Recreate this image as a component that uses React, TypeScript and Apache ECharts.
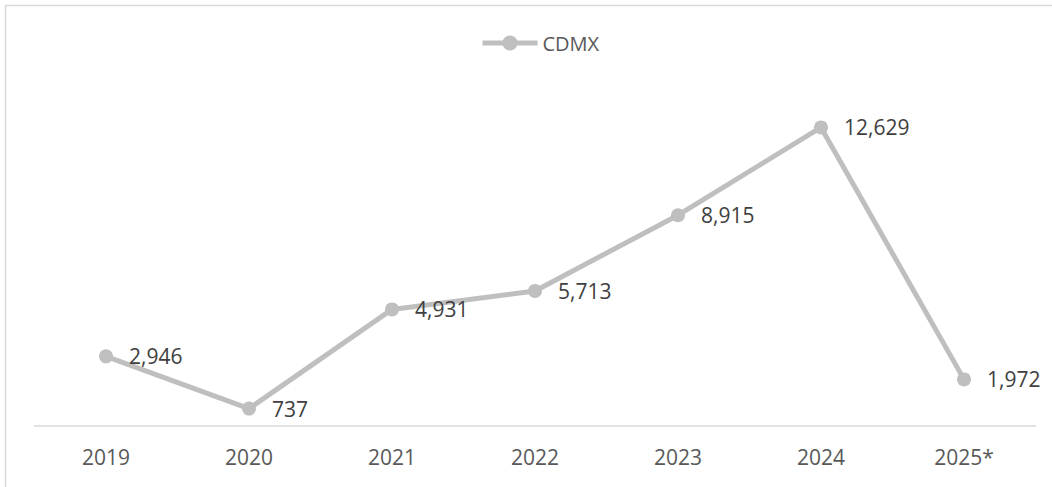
import React, { useEffect, useRef } from "react";
import * as echarts from "echarts";

const categories = ["2019", "2020", "2021", "2022", "2023", "2024", "2025*"];
const values = [2946, 737, 4931, 5713, 8915, 12629, 1972];
const seriesName = "CDMX";

export default function App() {
  const ref = useRef<HTMLDivElement>(null);
  useEffect(() => {
    document.body.style.margin = "0";
    const chart = echarts.init(ref.current!, null, { renderer: "svg" });
    const font = "'Open Sans', 'Noto Sans', sans-serif";
    chart.setOption({
      animation: false,
      backgroundColor: "#ffffff",
      graphic: [
        {
          type: "rect",
          shape: { x: 5.5, y: 5.5, width: 1200, height: 600 },
          style: { fill: "none", stroke: "#d9d9d9", lineWidth: 1.5 },
          silent: true,
        },
      ],
      legend: {
        top: 33,
        left: 480,
        padding: 0,
        itemWidth: 55,
        itemHeight: 19,
        itemGap: 10,
        textStyle: { color: "#595959", fontSize: 20, fontFamily: font },
        lineStyle: { width: 5, color: "#bfbfbf" },
        data: [seriesName],
      },
      grid: { left: 34.5, right: 16.5, top: 95, bottom: 61 },
      xAxis: {
        type: "category",
        data: categories,
        boundaryGap: true,
        axisLine: { lineStyle: { color: "#d9d9d9", width: 1.5 } },
        axisTick: { show: false },
        axisLabel: { color: "#595959", fontSize: 21, fontFamily: font, margin: 20 },
      },
      yAxis: {
        type: "value",
        min: 0,
        max: 14000,
        show: false,
        splitLine: { show: false },
      },
      series: [
        {
          name: seriesName,
          type: "line",
          data: values,
          symbol: "circle",
          symbolSize: 14,
          lineStyle: { color: "#bfbfbf", width: 5 },
          itemStyle: { color: "#bfbfbf" },
          label: {
            show: true,
            position: "right",
            distance: 16,
            color: "#404040",
            fontSize: 21,
            fontFamily: font,
            formatter: (p: any) => p.value.toLocaleString("en-US"),
          },
        },
      ],
    });
    return () => chart.dispose();
  }, []);
  return <div ref={ref} style={{ width: 1052, height: 487 }} />;
}
